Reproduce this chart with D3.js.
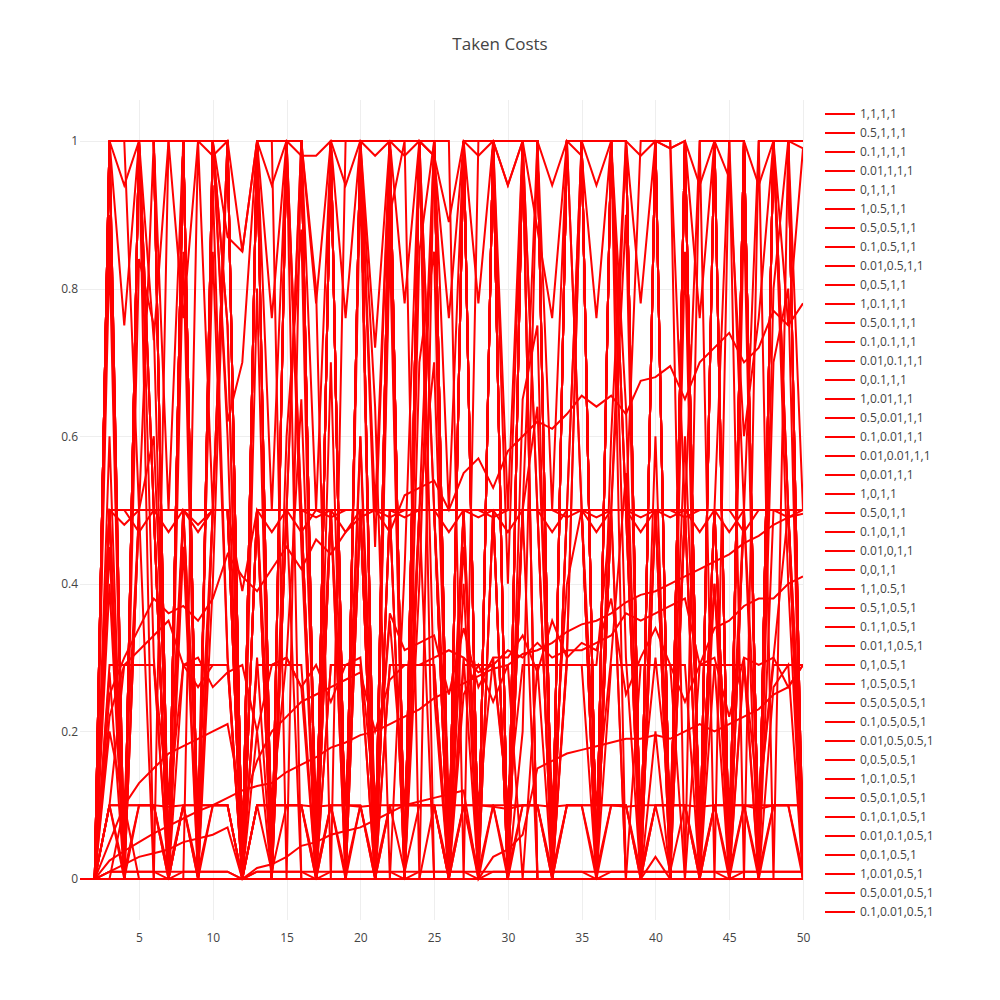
<!DOCTYPE html>
<html><head><meta charset="utf-8">
<script src="https://cdn.jsdelivr.net/npm/d3@7"></script>
<style>body{margin:0;background:#fff}svg{display:block}text{font-family:"Open Sans",sans-serif;fill:#444}</style>
</head><body>
<svg id="c" width="1000" height="1000"></svg>
<script>
const title = "Taken Costs";
const xValues = [1,2,3,4,5,6,7,8,9,10,11,12,13,14,15,16,17,18,19,20,21,22,23,24,25,26,27,28,29,30,31,32,33,34,35,36,37,38,39,40,41,42,43,44,45,46,47,48,49,50];
const xTicks = [5,10,15,20,25,30,35,40,45,50];
const yTicks = [0,0.2,0.4,0.6,0.8,1];
const seriesNames = ["1,1,1,1","0.5,1,1,1","0.1,1,1,1","0.01,1,1,1","0,1,1,1","1,0.5,1,1","0.5,0.5,1,1","0.1,0.5,1,1","0.01,0.5,1,1","0,0.5,1,1","1,0.1,1,1","0.5,0.1,1,1","0.1,0.1,1,1","0.01,0.1,1,1","0,0.1,1,1","1,0.01,1,1","0.5,0.01,1,1","0.1,0.01,1,1","0.01,0.01,1,1","0,0.01,1,1","1,0,1,1","0.5,0,1,1","0.1,0,1,1","0.01,0,1,1","0,0,1,1","1,1,0.5,1","0.5,1,0.5,1","0.1,1,0.5,1","0.01,1,0.5,1","0,1,0.5,1","1,0.5,0.5,1","0.5,0.5,0.5,1","0.1,0.5,0.5,1","0.01,0.5,0.5,1","0,0.5,0.5,1","1,0.1,0.5,1","0.5,0.1,0.5,1","0.1,0.1,0.5,1","0.01,0.1,0.5,1","0,0.1,0.5,1","1,0.01,0.5,1","0.5,0.01,0.5,1","0.1,0.01,0.5,1"];

const s01 = [0,0,1,0.94,1,1,1,1,1,0.98, 1,0.85,1,0.94,1,0.98,0.98,1,0.94,1, 0.98,1,0.98,1,0.98,0.89,1,0.98,1,0.94, 1,1,0.94,1,1,0.94,1,1,0.98,1, 0.99,1,0.94,1,1,1,0.94,1,1,0.99];
const s02 = [0,0,1,0.75,1,0.73,1,0.76,1,1, 0.62,0.7,1,0.76,1,1,0.78,1,0.76,1, 0.72,1,0.78,1,0.98,0.76,1,0.78,1,0.94, 1,0.88,0.76,1,0.98,0.76,1,1,0.78,1, 0.99,1,0.76,1,0.95,0.6,0.76,1,0.75,0.99];
const s03 = [0,0,1,1,1,0,0,1,0,1, 1,0,1,0,1,1,0,1,0,1, 0,1,0,1,1,0,1,0,1,0, 1,1,0,1,1,0,1,1,0,1, 0,1,0,1,0,1,0,1,1,0];
const s04 = [0,0,1,0,1,1,0,1,1,1, 1,0,1,1,1,1,0,1,0,1, 0,1,0,1,0,0,1,0,1,0, 1,1,0,1,1,0,1,1,0,1, 0,1,0,1,0,1,0,1,1,1];
const s05 = [0,0,0.5,0,1,1,0,1,0,1, 0.75,0,1,0,1,1,0,1,0,1, 0,1,0,1,1,0,1,0,1,0, 1,0,0,1,1,0,1,1,0,1, 0,1,0,1,0,1,0,1,0.5,0];
const s06 = [0,0,0.5,0.5,0.5,0.5,0.47,0.5,0.5,0.5, 0.5,0.39,0.5,0.5,0.5,0.5,0.49,0.5,0.47,0.5, 0.5,0.5,0.49,0.5,0.5,0.5,0.5,0.49,0.5,0.47, 0.5,0.5,0.47,0.5,0.5,0.47,0.5,0.5,0.49,0.5, 0.49,0.5,0.47,0.5,0.5,0.47,0.5,0.5,0.5,0.5];
const s07 = [0,0,1,0,1,0.5,0,1,0,1, 1,0,1,0,1,0.5,0,1,0,1, 0.45,1,0,1,1,0,1,0,1,0.4, 1,1,0,1,1,0,0.5,1,0,1, 0,1,0,1,0,1,0,1,1,0.5];
const s08 = [0,0,0.5,0.48,0.5,0.5,0,0.5,0.48,0.5, 0.5,0,0.5,0.47,0.5,0.5,0,0.5,0.5,0.5, 0,0.5,0.5,0.5,0.5,0,0.5,0.5,0.5,0, 0.5,0.5,0.5,0.5,0.5,0,0.5,0.5,0.5,0.5, 0,0.5,0.5,0.5,0,0.5,0.5,0.5,0.5,0.5];
const s09 = [0,0,1,0,0.5,1,0,1,0,1, 1,0,1,0,1,1,0,1,0,1, 0,1,0,1,1,0,1,0,1,0, 1,1,0,1,0.5,0,1,1,0,1, 0,1,0,1,0,1,0,1,1,0];
const s10 = [0,0,0.25,0.3,0.34,0.38,0.36,0.37,0.35,0.38, 0.44,0.41,0.39,0.42,0.45,0.42,0.46,0.44,0.47,0.49, 0.5,0.47,0.52,0.53,0.54,0.5,0.55,0.57,0.53,0.58, 0.6,0.62,0.61,0.63,0.655,0.64,0.655,0.63,0.675,0.68, 0.695,0.65,0.7,0.72,0.74,0.7,0.72,0.77,0.75,0.78];
const s11 = [0,0,0.1,0.1,0.1,0.1,0.098,0.1,0.1,0.1, 0.1,0,0.1,0.1,0.1,0.1,0.098,0.1,0.1,0.098, 0.1,0.1,0.1,0.1,0.1,0.1,0.1,0.1,0.098,0.095, 0.1,0.1,0.098,0.1,0.1,0.1,0.1,0.098,0.1,0.1, 0.1,0.1,0.098,0.1,0.1,0.1,0.095,0.1,0.1,0.1];
const s12 = [0,0,0.9,0,1,1,0,1,0,1, 1,0,0.3,0,1,1,0,1,0,1, 0.64,0,0.42,1,1,0,1,0,1,0, 1,1,0,1,1,0,1,0.3,0,1, 0,1,0,1,0,1,0,1,1,0];
const s13 = [0,0,0.1,0,0.1,0.1,0,0.1,0,0.1, 0.1,0,0.1,0.1,0.1,0.1,0,0.1,0,0.1, 0,0.1,0.1,0.1,0.1,0,0.1,0,0.1,0.1, 0.1,0.1,0,0.1,0.1,0,0.1,0.1,0,0.1, 0.1,0.1,0,0.1,0,0.1,0.1,0.1,0.1,0];
const s14 = [0,0,0.28,0,1,0.5,0,0.85,0,0.94, 0.3,0,1,0,0.5,1,0,1,0,0.5, 0,0.86,0,1,0.25,0,1,0,0.5,0, 1,0.5,0,1,0.5,0,1,0.64,0,1, 0,1,0,0.5,0,1,0,0.8,1,0];
const s15 = [0,0,0.025,0.038,0.05,0.062,0.072,0.082,0.092,0.1, 0.11,0.12,0.126,0.13,0.145,0.155,0.165,0.178,0.185,0.195, 0.2,0.21,0.22,0.23,0.245,0.255,0.265,0.275,0.285,0.29, 0.305,0.31,0.32,0.335,0.345,0.35,0.36,0.375,0.385,0.39, 0.4,0.41,0.42,0.43,0.44,0.455,0.465,0.48,0.49,0.495];
const s16 = [0,0,0.01,0.01,0.01,0.01,0,0.01,0.01,0.01, 0.01,0,0.01,0.01,0.01,0.01,0,0.01,0.01,0.01, 0.01,0.01,0,0.01,0.01,0.01,0.01,0,0.01,0.01, 0.01,0.01,0.01,0.01,0.01,0,0.01,0.01,0.01,0.01, 0.01,0.01,0.01,0.01,0,0.01,0.01,0.01,0.01,0.01];
const s17 = [0,0,1,0,1,1,0,0,1,0.5, 1,0,1,0.5,1,1,0,1,0,1, 0,1,0,1,0.5,0,1,0,1,0, 1,0,0,1,1,0,1,1,0,1, 0,1,0,0.5,1,0,1,0,1,0];
const s18 = [0,0,0.1,0.29,0.29,0.29,0,0.29,0.26,0.29, 0.29,0,0.29,0.29,0.3,0.26,0,0.29,0.29,0.29, 0,0.29,0.29,0.29,0.29,0,0.25,0.29,0.24,0.29, 0,0.29,0,0.29,0.29,0.29,0.5,0,0.29,0.29, 0.29,0,0.29,0.29,0,0.29,0,0.26,0.29,0];
const s19 = [0,0,0,0,0,0,0,0,0,0, 0,0,0,0,0,0,0,0,0,0, 0,0,0,0,0,0,0,0,0,0, 0,0,0,0,0,0,0,0,0,0, 0,0,0,0,0,0,0,0,0,0];
const s20 = [0,0,0.5,0,0.5,0.5,0,0.5,0.5,0.5, 0.5,0,0.5,0,0.5,0.5,0,0.5,0.5,0.5, 0,0.5,0,0.5,0.5,0,0.5,0.5,0.5,0, 0.5,0.5,0,0.5,0.5,0,0.5,0.5,0,0.5, 0.5,0.5,0,0.5,0,0.5,0.5,0.5,0.5,0];
const s21 = [0,0,0.05,0.1,0.13,0.15,0.17,0.18,0.19,0.2, 0.21,0.1,0.16,0.2,0.22,0.24,0.25,0.26,0.27,0.28, 0.2,0.27,0.29,0.29,0.3,0.31,0.3,0.28,0.29,0.31, 0.3,0.32,0.3,0.31,0.31,0.32,0.33,0.36,0.35,0.36, 0.37,0.38,0.29,0.34,0.35,0.37,0.38,0.38,0.4,0.41];
const s22 = [0,0,1,1,0.5,0,1,1,0,1, 1,0,1,1,0,1,0.8,0,1,1, 0,0.9,1,0,1,1,0,1,1,0, 1,1,0,1,1,0,1,1,0,1, 1,0,1,0,1,1,0,1,1,0];
const s23 = [0,0,0.5,0.5,0.5,0.5,0.5,0.5,0.1,0.5, 0.5,0,0.5,0.5,0.5,0.5,0.5,0.5,0.5,0.5, 0.5,0.5,0.5,0.5,0.5,0.1,0.5,0.5,0.5,0.5, 0.5,0.5,0.5,0.5,0.5,0.5,0.5,0.5,0.5,0.5, 0.1,0.5,0.5,0.5,0.5,0.5,0.5,0.5,0.5,0.1];
const s24 = [0,0,0,0.1,0,0,0,0.1,0,0, 0,0,0,0,0,0,0,0,0,0, 0,0,0,0,0.1,0,0,0,0,0, 0,0,0,0,0,0,0,0,0,0.03, 0,0,0,0,0,0,0,0,0,0];
const s25 = [0,0,0,0,0,0,0,0,0,0, 0,0,0,0,0,0,0,0,0,0, 0,0,0,0,0,0,0,0,0,0, 0,0,0,0,0,0,0,0,0,0, 0,0,0,0,0,0,0,0,0,0];
const s26 = [0,0,1,1,1,1,0.5,1,1,1, 1,0,1,1,1,1,0.5,1,1,1, 0.5,1,1,1,1,0.5,1,1,1,0.5, 1,1,0.5,1,1,1,1,0.5,1,1, 1,0.5,1,1,1,0.5,1,1,1,1];
const s27 = [0,0,1,0,1,1,0,1,0,1, 1,0,1,0,1,1,0,1,0,1, 0,1,0,1,1,0,1,0,1,0, 1,1,0,1,1,0,1,1,0,1, 0,1,0,1,0,1,0,1,1,0];
const s28 = [0,0,0.45,0,1,0.5,0,1,0,0.5, 1,0,1,0,0.5,1,0,0.5,0,1, 0,0.5,0,1,0.5,0,1,0,0.5,0, 1,0.5,0,0.5,1,0,1,0.5,0,0.5, 0,1,0,0.5,0,1,0,1,0.5,0];
const s29 = [0,0,0.6,0,0.84,0.75,0,0.45,0,1, 0.75,0,0.8,0,0.6,0.88,0,0.7,0,1, 0,0.9,0,0.7,0.85,0,0.4,0,1,0, 0.65,0.75,0,0.3,1,0,0.5,0.9,0,0.6, 0,0.85,0,0.4,0,0.9,0,0.7,0.8,0];
const s30 = [0,0,0.5,0.5,0.47,0.5,0.5,0.5,0.47,0.5, 0.5,0,0.5,0.5,0.5,0.47,0.5,0.49,0.5,0.5, 0.5,0.49,0.5,0.5,0.5,0.47,0.5,0.5,0.49,0.5, 0.5,0.5,0.5,0.49,0.5,0.49,0.5,0.5,0.47,0.5, 0.5,0.49,0.5,0.5,0.47,0.5,0.5,0.5,0.49,0.5];
const s31 = [0,0,0.22,0.29,0.31,0.33,0.35,0.29,0.3,0.26, 0.28,0.29,0.2,0.29,0.3,0.26,0.29,0.24,0.29,0.3, 0.1,0.36,0.31,0.32,0.33,0.25,0.34,0.26,0.3,0.3, 0.33,0.28,0.35,0.3,0.32,0.31,0.38,0.25,0.3,0.34, 0.29,0.24,0.29,0.3,0.22,0.3,0.29,0.3,0.26,0.29];
const s32 = [0,0,0.85,0,1,0.3,0,1,0,0.4, 1,0,0.2,0,1,0.45,0,1,0,0.6, 0,1,0,0.85,1,0,0.3,0,1,0, 0.2,1,0,0.3,1,0,0.6,1,0,0.2, 0,1,0,0.5,0,0.3,0,1,0.4,0];
const s33 = [0,0,0.1,0.1,0.1,0.1,0,0.1,0.1,0.1, 0.1,0,0.1,0.1,0.1,0.1,0,0.1,0.1,0.1, 0,0.1,0.1,0.1,0.1,0,0.1,0.1,0.1,0, 0.1,0.1,0,0.1,0.1,0.1,0.1,0.1,0,0.1, 0.1,0.1,0,0.1,0.1,0.1,0,0.1,0.1,0.1];
const s34 = [0,0,0.01,0.02,0.03,0.035,0.04,0.05,0.055,0.06, 0.07,0,0.015,0.02,0.03,0.045,0.05,0.06,0.065,0.07, 0.08,0.09,0.1,0.105,0.11,0.115,0.12,0,0.03,0.04, 0.06,0.15,0.16,0.17,0.175,0.18,0.185,0.19,0.19,0.195, 0.19,0.2,0.21,0.2,0.21,0.22,0.23,0.25,0.26,0.29];
const s35 = [0,0,0.01,0.01,0.01,0.01,0.01,0.01,0.01,0.01, 0.01,0,0.01,0.01,0.01,0.01,0.01,0.01,0.01,0.01, 0.01,0.01,0.01,0.01,0.01,0.01,0.01,0.01,0.01,0.01, 0.01,0.01,0.01,0.01,0.01,0.01,0.01,0.01,0.01,0.01, 0.01,0.01,0.01,0.01,0.01,0.01,0.01,0.01,0.01,0.01];
const s36 = [0,0,0.5,0,0.5,0.5,0,0.5,0,0.5, 0.5,0,0.5,0,0.5,0,0,0.5,0,0.5, 0,0.5,0,0.5,0,0,0.5,0,0.5,0, 0.5,0,0,0.5,0.5,0,0.5,0,0,0.5, 0,0.5,0,0.5,0,0,0,0.5,0.5,0];
const s37 = [0,0,1,0,1,1,0,1,0,1, 0.6,0,1,0,1,0,0,1,0,0.95, 0,1,0,0.4,1,0,1,0,1,0, 1,0,0,1,1,0,1,1,0,1, 0,1,0,1,0,1,0,1,1,0];
const s38 = [0,0,0.2,0.1,0.5,0.6,0.1,0.5,0.1,0.85, 0.3,0,0.5,0.1,0.3,0.65,0.1,0.5,0.1,0.6, 0.1,0.35,0.1,0.5,0.7,0.1,0.45,0.1,0.3,0.1, 0.5,0.64,0.1,0.4,0.5,0.1,0.3,0.55,0.1,0.3, 0.1,0.6,0.1,0.4,0.1,0.5,0.1,0.3,0.5,0.1];
const s39 = [0,0,0.1,0.01,0.1,0.1,0.01,0.1,0.01,0.1, 0.1,0,0.1,0.01,0.1,0.1,0.01,0.1,0.01,0.1, 0.01,0.1,0.01,0.1,0.1,0.01,0.1,0.01,0.1,0.01, 0.1,0.1,0.01,0.1,0.1,0.01,0.1,0.1,0.01,0.1, 0.01,0.1,0.01,0.1,0.01,0.1,0.01,0.1,0.1,0.01];
const s40 = [0,0,0,0,0,0,0,0,0,0, 0,0,0,0,0,0,0,0,0,0, 0,0,0,0,0,0,0,0,0,0, 0,0,0,0,0,0,0,0,0,0, 0,0,0,0,0,0,0,0,0,0];
const s41 = [0,0,1,1,1,1,0,1,1,1, 0.87,0.85,1,1,1,1,0,1,0,1, 1,1,0,1,1,0,1,0,1,1, 1,1,0,1,1,0,1,0,0,1, 0,1,0,1,0,1,0,1,1,1];
const s42 = [0,0,0.4,0,1,0.5,0,1,0,0.5, 1,0,0.5,0,1,0.5,0,1,0,0.5, 0,1,0,0.5,1,0,0.5,0,1,0, 0.5,1,0,0.5,1,0,1,0.5,0,1, 0,0.5,0,1,0,0.5,0,1,0.5,0];
const s43 = [0,0,0.29,0.29,0.29,0.29,0.1,0.29,0.29,0.29, 0.29,0,0.29,0.29,0.29,0.29,0,0.29,0.29,0.29, 0,0.29,0.29,0.29,0.29,0,0.29,0.29,0.29,0.1, 0.29,0.29,0.29,0.29,0.29,0,0.29,0.29,0.29,0.29, 0.29,0.29,0,0.29,0.29,0.29,0.1,0.29,0.29,0.29];

const seriesValues = [s01,s02,s03,s04,s05,s06,s07,s08,s09,s10,s11,s12,s13,s14,s15,s16,s17,s18,s19,s20,s21,s22,s23,s24,s25,s26,s27,s28,s29,s30,s31,s32,s33,s34,s35,s36,s37,s38,s39,s40,s41,s42,s43];

const svg = d3.select("#c");
svg.append("rect").attr("width",1000).attr("height",1000).attr("fill","#fff");
const L=80, R=803, T=100, B=920;
const x = d3.scaleLinear().domain([1,50]).range([L,R]);
const y = d3.scaleLinear().domain([-0.0555,1.0555]).range([B,T]);

const g = svg.append("g");
g.selectAll("line.xg").data(xTicks).join("line")
  .attr("x1",d=>Math.round(x(d))+0.5).attr("x2",d=>Math.round(x(d))+0.5)
  .attr("y1",T).attr("y2",B).attr("stroke","#eee").attr("stroke-width",1);
g.selectAll("line.yg").data(yTicks.filter(d=>d!==0)).join("line")
  .attr("y1",d=>Math.round(y(d))+0.5).attr("y2",d=>Math.round(y(d))+0.5)
  .attr("x1",L).attr("x2",R).attr("stroke","#eee").attr("stroke-width",1);
g.append("line").attr("x1",L).attr("x2",R).attr("y1",Math.round(y(0))+0.5).attr("y2",Math.round(y(0))+0.5)
  .attr("stroke","#444").attr("stroke-width",1);

const xAxis = svg.append("g").attr("transform",`translate(0,${B})`)
  .call(d3.axisBottom(x).tickValues(xTicks).tickSize(0).tickPadding(13));
xAxis.select(".domain").remove();
xAxis.selectAll("text").style("font-size","12px").style("font-family","'Open Sans',sans-serif").attr("fill","#444");
const yAxis = svg.append("g").attr("transform",`translate(${L},0)`)
  .call(d3.axisLeft(y).tickValues(yTicks).tickFormat(d3.format("")).tickSize(0).tickPadding(2));
yAxis.select(".domain").remove();
yAxis.selectAll("text").style("font-size","12px").style("font-family","'Open Sans',sans-serif").attr("fill","#444");

const line = d3.line().x((d,i)=>x(xValues[i])).y(d=>y(d));
svg.append("clipPath").attr("id","pc").append("rect").attr("x",L).attr("y",T).attr("width",R-L).attr("height",B-T);
svg.append("g").attr("clip-path","url(#pc)").selectAll("path").data(seriesValues).join("path")
  .attr("d",line).attr("fill","none").attr("stroke","#ff0000").attr("stroke-width",2);

const lg = svg.append("g");
const items = lg.selectAll("g").data(seriesNames).join("g")
  .attr("transform",(d,i)=>`translate(825,${114+i*19})`);
items.append("line").attr("x1",0).attr("x2",30).attr("stroke","#ff0000").attr("stroke-width",2);
items.append("text").attr("x",35).attr("dy","0.35em").style("font-size","12px").text(d=>d);

svg.append("text").attr("x",500).attr("y",50).attr("text-anchor","middle").style("font-size","17px").text(title);
</script>
</body></html>
